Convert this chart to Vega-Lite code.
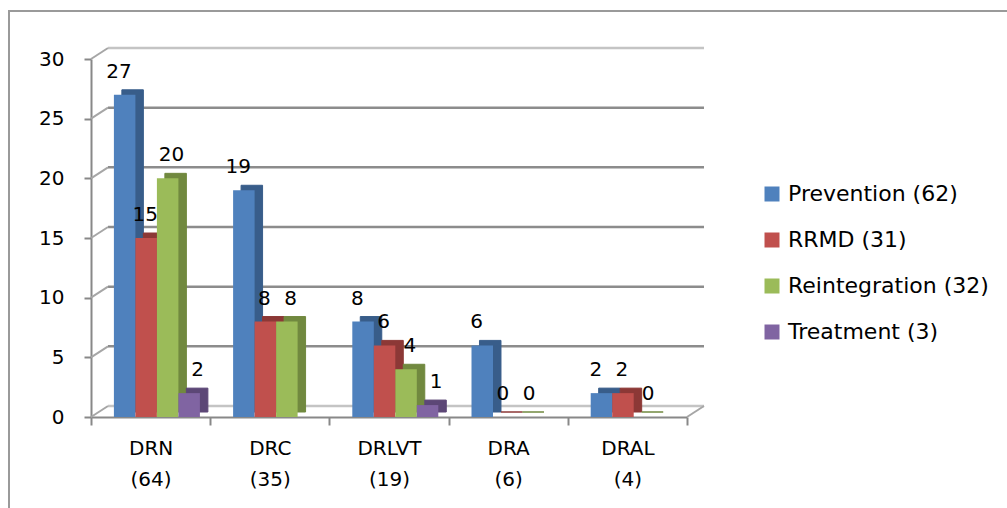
{
  "$schema": "https://vega.github.io/schema/vega-lite/v6.json",
  "width": 1000,
  "height": 500,
  "autosize": {"type": "none"},
  "padding": {"left": 9, "top": 11, "right": 0, "bottom": 0},
  "background": "white",
  "config": {
    "view": {"stroke": "#9a9a9a", "strokeWidth": 2},
    "font": "DejaVu Sans"
  },
  "datasets": {
    "bars": [
      {"region": "DRN (64)", "series": "Prevention (62)", "value": 27},
      {"region": "DRN (64)", "series": "RRMD (31)", "value": 15},
      {"region": "DRN (64)", "series": "Reintegration (32)", "value": 20},
      {"region": "DRN (64)", "series": "Treatment (3)", "value": 2},
      {"region": "DRC (35)", "series": "Prevention (62)", "value": 19},
      {"region": "DRC (35)", "series": "RRMD (31)", "value": 8},
      {"region": "DRC (35)", "series": "Reintegration (32)", "value": 8},
      {"region": "DRLVT (19)", "series": "Prevention (62)", "value": 8},
      {"region": "DRLVT (19)", "series": "RRMD (31)", "value": 6},
      {"region": "DRLVT (19)", "series": "Reintegration (32)", "value": 4},
      {"region": "DRLVT (19)", "series": "Treatment (3)", "value": 1},
      {"region": "DRA (6)", "series": "Prevention (62)", "value": 6},
      {"region": "DRA (6)", "series": "RRMD (31)", "value": 0},
      {"region": "DRA (6)", "series": "Reintegration (32)", "value": 0},
      {"region": "DRAL (4)", "series": "Prevention (62)", "value": 2},
      {"region": "DRAL (4)", "series": "RRMD (31)", "value": 2},
      {"region": "DRAL (4)", "series": "Reintegration (32)", "value": 0}
    ],
    "grid": [{"v": 0}, {"v": 5}, {"v": 10}, {"v": 15}, {"v": 20}, {"v": 25}, {"v": 30}],
    "floor": [{"v": 0}]
  },
  "layer": [
    {
      "data": {"name": "grid"},
      "mark": {"type": "rule", "xOffset": 17, "x2Offset": 17, "yOffset": -11, "y2Offset": -11, "strokeWidth": 2.5},
      "encoding": {
        "x": {"datum": "DRN (64)", "type": "nominal", "bandPosition": 0,
              "scale": {"domain": ["DRN (64)", "DRC (35)", "DRLVT (19)", "DRA (6)", "DRAL (4)"], "range": [82, 678], "paddingInner": 0, "paddingOuter": 0}},
        "x2": {"datum": "DRAL (4)", "bandPosition": 1},
        "y": {"field": "v", "type": "quantitative",
              "scale": {"domain": [0, 30], "range": [406, 48], "nice": false}},
        "color": {"condition": {"test": "datum.v == 0 || datum.v == 30", "value": "#c4c4c4"}, "value": "#8c8c8c"}
      }
    },
    {
      "data": {"name": "grid"},
      "mark": {"type": "rule", "x2Offset": 17, "y2Offset": -11, "strokeWidth": 2, "color": "#a6a6a6"},
      "encoding": {
        "x": {"datum": "DRN (64)", "type": "nominal", "bandPosition": 0},
        "x2": {"datum": "DRN (64)", "bandPosition": 0},
        "y": {"field": "v", "type": "quantitative"},
        "y2": {"field": "v"}
      }
    },
    {
      "data": {"name": "floor"},
      "mark": {"type": "rule", "x2Offset": 17, "y2Offset": -11, "strokeWidth": 2, "color": "#a6a6a6"},
      "encoding": {
        "x": {"datum": "DRAL (4)", "type": "nominal", "bandPosition": 1},
        "x2": {"datum": "DRAL (4)", "bandPosition": 1},
        "y": {"field": "v", "type": "quantitative"},
        "y2": {"field": "v"}
      }
    },
    {
      "data": {"name": "bars"},
      "mark": {"type": "bar", "yOffset": -5, "y2Offset": -5},
      "encoding": {
        "x": {"field": "region", "type": "nominal"},
        "xOffset": {"field": "series", "type": "nominal",
                    "scale": {"domain": ["Prevention (62)", "RRMD (31)", "Reintegration (32)", "Treatment (3)"], "paddingInner": 0, "paddingOuter": 0.772, "align": 0.93}},
        "y": {"field": "value", "type": "quantitative"},
        "color": {"field": "series", "type": "nominal", "legend": null,
                  "scale": {"domain": ["Prevention (62)", "RRMD (31)", "Reintegration (32)", "Treatment (3)"],
                            "range": ["#385D8A", "#8C3836", "#71893F", "#5C4776"]}},
        "stroke": {"field": "series", "type": "nominal", "legend": null,
                  "scale": {"domain": ["Prevention (62)", "RRMD (31)", "Reintegration (32)", "Treatment (3)"],
                            "range": ["#385D8A", "#8C3836", "#71893F", "#5C4776"]}}
      }
    },
    {
      "data": {"name": "bars"},
      "mark": {"type": "bar"},
      "encoding": {
        "x": {"field": "region", "type": "nominal",
              "axis": {"orient": "bottom", "offset": -94, "tickBand": "extent", "tickSize": 8, "tickColor": "#888888", "tickWidth": 2,
                       "domainColor": "#888888", "domainWidth": 2, "labelAngle": 0, "labelAlign": "center", "labelFontSize": 20, "labelColor": "#000000",
                       "labelExpr": "split(datum.label, ' ')", "labelLineHeight": 31, "labelPadding": 23, "title": null, "grid": false}},
        "xOffset": {"field": "series", "type": "nominal",
                    "scale": {"domain": ["Prevention (62)", "RRMD (31)", "Reintegration (32)", "Treatment (3)"], "paddingInner": 0, "paddingOuter": 0.772, "align": 0.69}},
        "y": {"field": "value", "type": "quantitative",
              "axis": {"orient": "left", "offset": -82, "values": [0, 5, 10, 15, 20, 25, 30], "tickSize": 7, "tickColor": "#888888", "tickWidth": 2,
                       "domainColor": "#888888", "domainWidth": 2, "labelFontSize": 20, "labelColor": "#000000", "labelPadding": 20,
                       "title": null, "grid": false}},
        "color": {"field": "series", "type": "nominal",
                  "scale": {"domain": ["Prevention (62)", "RRMD (31)", "Reintegration (32)", "Treatment (3)"],
                            "range": ["#4F81BD", "#C0504D", "#9BBB59", "#8064A2"]},
                  "legend": {"orient": "none", "legendX": 752, "legendY": 172, "title": null, "symbolType": "square", "symbolSize": 225,
                             "symbolStrokeWidth": 0, "labelFontSize": 22, "labelLimit": 400, "labelColor": "#000000", "rowPadding": 24, "labelOffset": 5, "padding": 0}}
      }
    },
    {
      "data": {"name": "bars"},
      "mark": {"type": "text", "dy": -17, "baseline": "alphabetic", "fontSize": 20, "color": "#000000"},
      "encoding": {
        "x": {"field": "region", "type": "nominal"},
        "xOffset": {"field": "series", "type": "nominal",
                    "scale": {"domain": ["Prevention (62)", "RRMD (31)", "Reintegration (32)", "Treatment (3)"], "paddingInner": 0, "paddingOuter": 0.772, "align": 0.69}},
        "y": {"field": "value", "type": "quantitative"},
        "text": {"field": "value", "type": "quantitative"}
      }
    }
  ],
  "resolve": {"scale": {"color": "independent", "stroke": "independent", "xOffset": "independent"}}
}
